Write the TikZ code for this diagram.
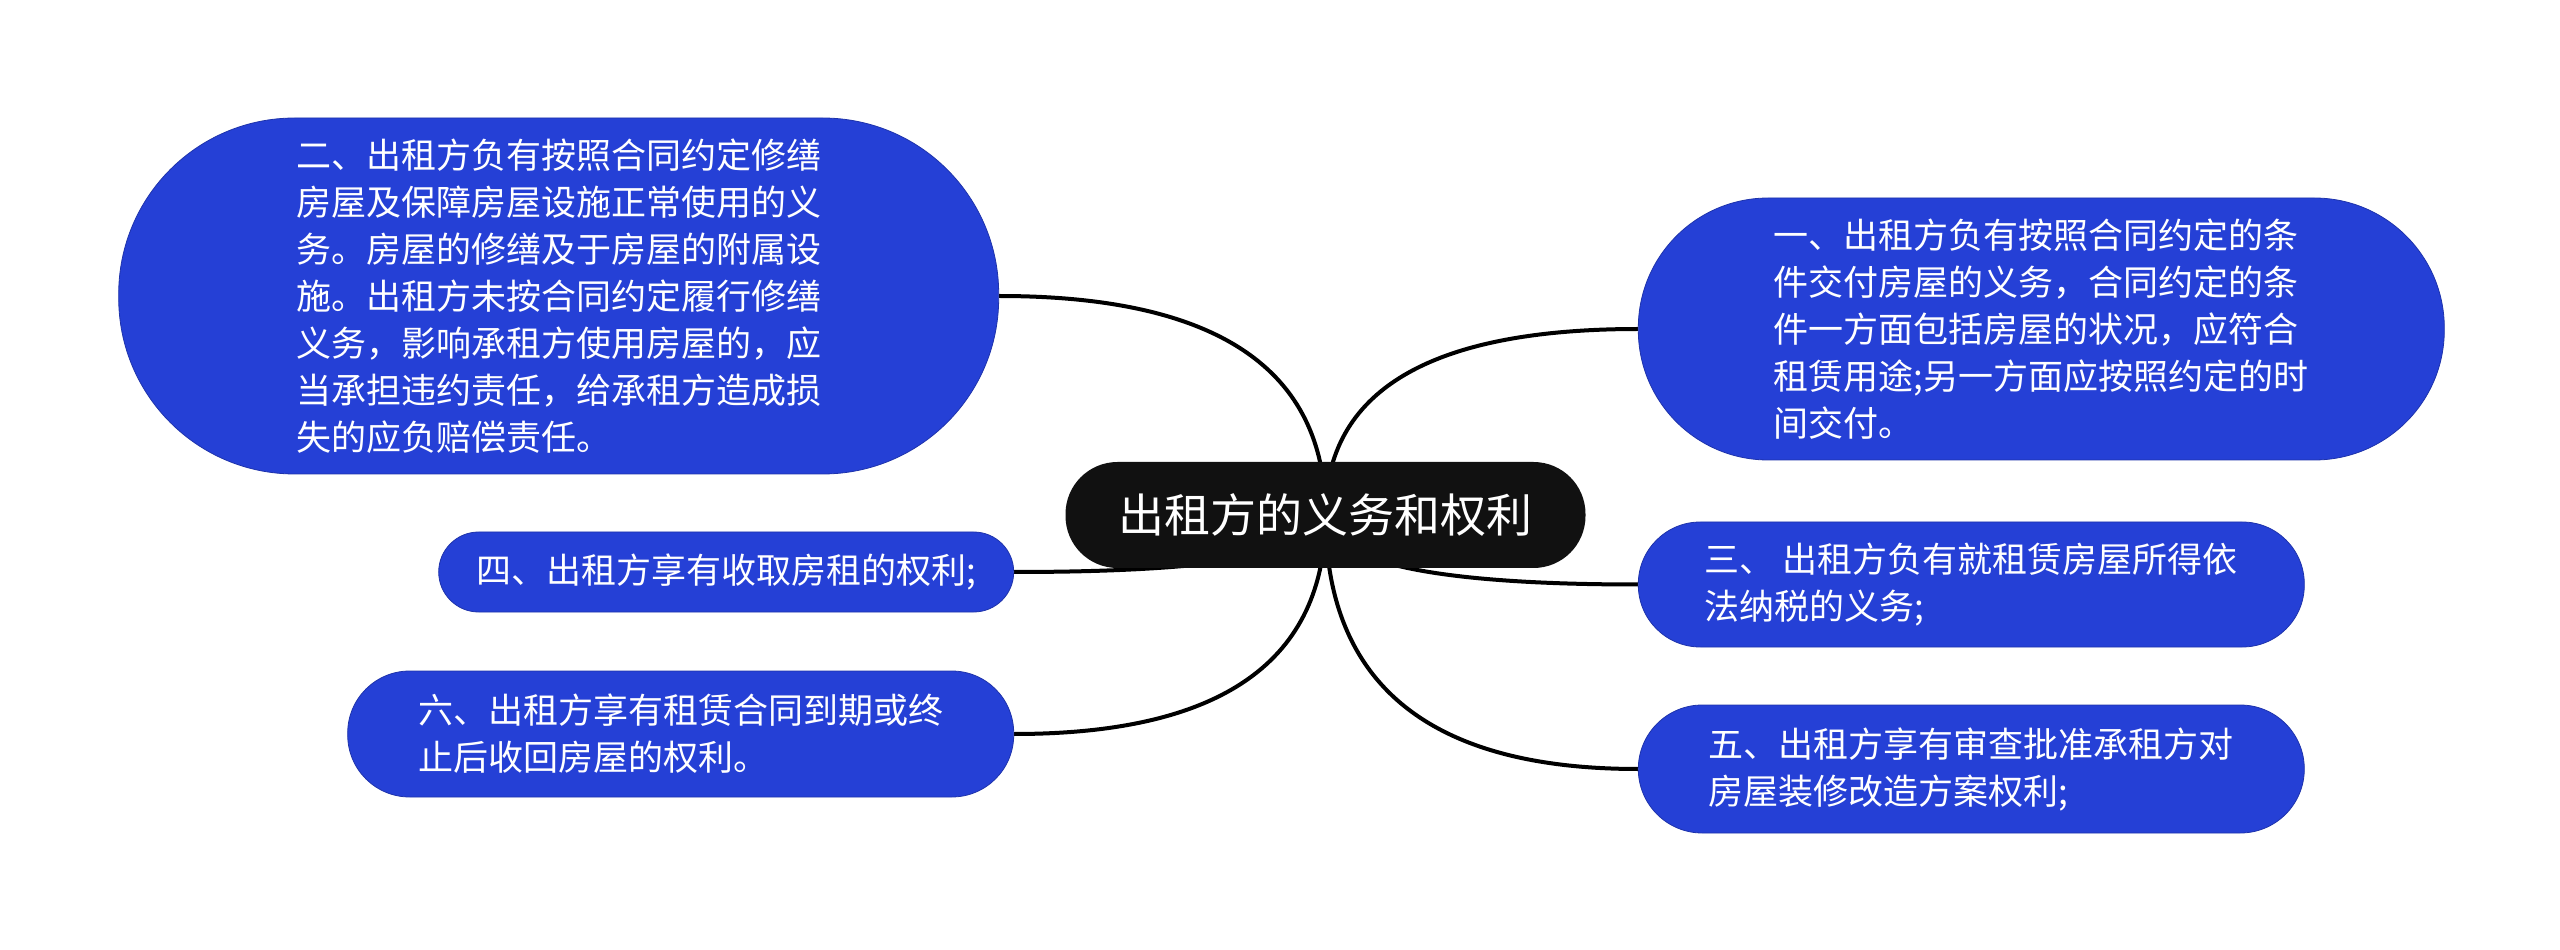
\documentclass[tikz,border=0pt]{standalone}
\usepackage{fontspec}
\usepackage{tikz}
\usetikzlibrary{positioning, calc, backgrounds}
\newfontfamily\cjk{Noto Sans CJK SC}
\definecolor{leafblue}{RGB}{37, 64, 214}
\definecolor{rootdark}{RGB}{17, 17, 17}

\begin{document}
\begin{tikzpicture}[
    node distance=26pt,
    root/.style={rectangle, fill=rootdark, text=white, rounded corners=26pt, minimum width=260pt, minimum height=53pt, font=\cjk\fontsize{23pt}{28pt}\selectfont},
    leaf/.style={rectangle, draw=leafblue!80!black, fill=leafblue, thin, text=white, align=left, font=\cjk\fontsize{17.5pt}{23.5pt}\selectfont},
    branch/.style={line width=2pt, color=black, to path={.. controls ($(\tikztostart)!0.667!(\tikztostart|-\tikztotarget)$) and ($(\tikztotarget)!0.667!(\tikztostart|-\tikztotarget)$) .. (\tikztotarget)}}
]
    \useasboundingbox (0,0) rectangle (1280pt,474.5pt);
    \node[root] (root) at (662.75pt,217pt) {出租方的义务和权利};

    \node[leaf, minimum width=403pt, minimum height=131pt, rounded corners=65pt, right=26pt of root, yshift=93pt] (n1) {一、出租方负有按照合同约定的条\\件交付房屋的义务，合同约定的条\\件一方面包括房屋的状况，应符合\\租赁用途;另一方面应按照约定的时\\间交付。};
    \node[leaf, minimum width=440pt, minimum height=178pt, rounded corners=88pt, left=33pt of root, yshift=109.5pt] (n2) {二、出租方负有按照合同约定修缮\\房屋及保障房屋设施正常使用的义\\务。房屋的修缮及于房屋的附属设\\施。出租方未按合同约定履行修缮\\义务，影响承租方使用房屋的，应\\当承担违约责任，给承租方造成损\\失的应负赔偿责任。};
    \node[leaf, minimum width=333pt, minimum height=62.5pt, rounded corners=31pt, right=26pt of root, yshift=-34.75pt] (n3) {三、 出租方负有就租赁房屋所得依\\法纳税的义务;};
    \node[leaf, minimum width=287.5pt, minimum height=40pt, rounded corners=20pt, left=25.5pt of root, yshift=-28.5pt] (n4) {四、出租方享有收取房租的权利;};
    \node[leaf, minimum width=333pt, minimum height=64pt, rounded corners=32pt, right=26pt of root, yshift=-127pt] (n5) {五、出租方享有审查批准承租方对\\房屋装修改造方案权利;};
    \node[leaf, minimum width=333pt, minimum height=63pt, rounded corners=31pt, left=25.5pt of root, yshift=-109.5pt] (n6) {六、出租方享有租赁合同到期或终\\止后收回房屋的权利。};

    \begin{scope}[on background layer]
        \draw[branch] (root.center) to (n1.west);
        \draw[branch] (root.center) to (n2.east);
        \draw[branch] (root.center) to (n3.west);
        \draw[branch] (root.center) to (n4.east);
        \draw[branch] (root.center) to (n5.west);
        \draw[branch] (root.center) to (n6.east);
    \end{scope}
\end{tikzpicture}
\end{document}
